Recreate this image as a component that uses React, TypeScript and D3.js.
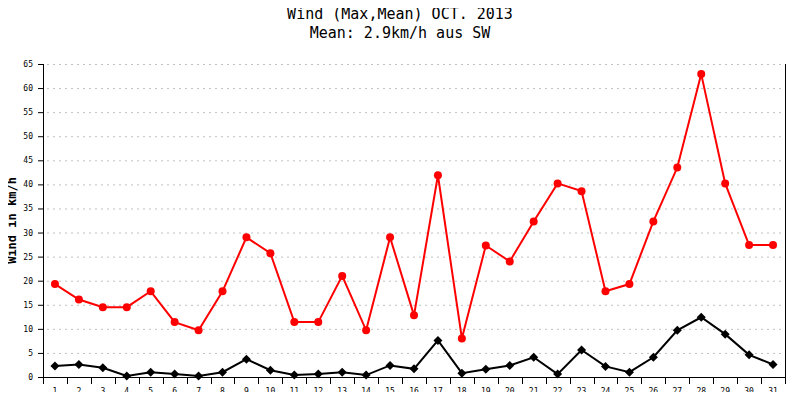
import React from "react";
import * as d3 from "d3";

const days = Array.from({ length: 31 }, (_, i) => String(i + 1));
const maxWind = [19.3, 16.1, 14.5, 14.5, 17.8, 11.4, 9.7, 17.8, 29.0, 25.7, 11.4, 11.4, 21.0, 9.7, 29.0, 12.8, 41.9, 8.0, 27.3, 24.0, 32.3, 40.2, 38.6, 17.8, 19.3, 32.3, 43.5, 62.9, 40.2, 27.4, 27.4];
const meanWind = [2.3, 2.6, 1.9, 0.2, 1.0, 0.6, 0.2, 1.0, 3.7, 1.4, 0.4, 0.6, 1.0, 0.4, 2.4, 1.7, 7.6, 0.8, 1.6, 2.4, 4.1, 0.6, 5.6, 2.2, 1.0, 4.1, 9.7, 12.4, 8.9, 4.6, 2.6];
const yTicks = [0, 5, 10, 15, 20, 25, 30, 35, 40, 45, 50, 55, 60, 65];
const title = "Wind (Max,Mean) OCT. 2013";
const subtitle = "Mean: 2.9km/h aus SW";
const yLabel = "Wind in km/h";

const FONT = "'DejaVu Sans Mono', 'Liberation Mono', monospace";

export default function App() {
  const W = 800, H = 400;
  const left = 43, right = 785, top = 64, bottom = 377;
  const x = d3.scaleBand<string>().domain(days).range([left, right]);
  const y = d3.scaleLinear().domain([0, 65]).range([bottom, top]);
  const cx = (d: string) => (x(d) as number) + x.bandwidth() / 2;

  const lineMax = d3.line<number>().x((_, i) => cx(days[i])).y((v) => y(v));
  const diamond = "M0,-4.5L4.5,0L0,4.5L-4.5,0Z";

  const boundaries = days.map((d) => x(d) as number).concat([right]);

  return (
    <div style={{ margin: -8 }}>
      <svg width={W} height={H} style={{ display: "block", background: "#fff" }}>
        <text x={400} y={19} textAnchor="middle" fontFamily={FONT} fontSize={15} fill="#000">{title}</text>
        <text x={400} y={38} textAnchor="middle" fontFamily={FONT} fontSize={15} fill="#000">{subtitle}</text>

        {yTicks.filter((t) => t > 0).map((t) => (
          <line key={"g" + t} x1={left + 4} x2={right} y1={y(t) + 0.5} y2={y(t) + 0.5} stroke="#c0c0c0" strokeWidth={1} strokeDasharray="2,4" />
        ))}

        {yTicks.map((t) => (
          <g key={"yt" + t}>
            <line x1={38} x2={left} y1={y(t) + 0.5} y2={y(t) + 0.5} stroke="#000" />
            <text x={33} y={y(t) + 3} textAnchor="end" fontFamily={FONT} fontSize={8} fill="#000">{t}</text>
          </g>
        ))}

        <line x1={left + 0.5} x2={left + 0.5} y1={top} y2={bottom} stroke="#000" />
        <line x1={right + 0.5} x2={right + 0.5} y1={top} y2={bottom} stroke="#000" />
        <line x1={left} x2={right + 1} y1={bottom + 0.5} y2={bottom + 0.5} stroke="#000" />

        {boundaries.map((b, i) => (
          <line key={"xt" + i} x1={Math.round(b) + 0.5} x2={Math.round(b) + 0.5} y1={bottom} y2={bottom + 7} stroke="#000" />
        ))}
        {days.map((d) => (
          <text key={"xl" + d} x={cx(d)} y={394} textAnchor="middle" fontFamily={FONT} fontSize={8} fill="#000">{d}</text>
        ))}

        <text transform={`translate(16,${(top + bottom) / 2}) rotate(-90)`} textAnchor="middle" fontFamily={FONT} fontSize={12} fontWeight="bold" fill="#000">{yLabel}</text>

        <path d={lineMax(meanWind) || ""} fill="none" stroke="#000" strokeWidth={2} />
        {meanWind.map((v, i) => (
          <path key={"md" + i} d={diamond} transform={`translate(${cx(days[i])},${y(v)})`} fill="#000" />
        ))}

        <path d={lineMax(maxWind) || ""} fill="none" stroke="#ff0000" strokeWidth={2} />
        {maxWind.map((v, i) => (
          <circle key={"mc" + i} cx={cx(days[i])} cy={y(v)} r={4} fill="#ff0000" />
        ))}
      </svg>
    </div>
  );
}
